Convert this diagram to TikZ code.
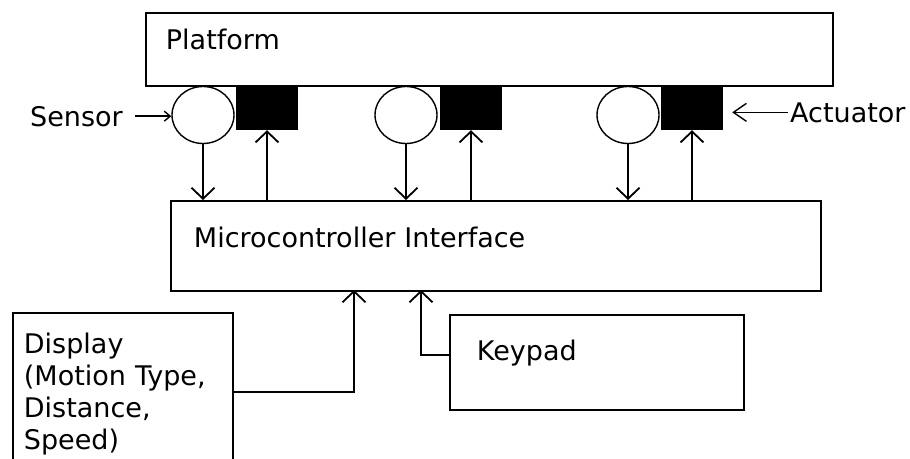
\documentclass[tikz,border=0pt]{standalone}
\usepackage{fontspec}
\setmainfont{DejaVu Sans}
\usetikzlibrary{positioning,arrows.meta,shapes.geometric}

\begin{document}
\begin{tikzpicture}[
    x=1pt, y=-1pt,
    txt/.style={font=\fontsize{27}{32}\selectfont},
    block/.style={rectangle, draw, line width=1.9pt, anchor=north west, txt, align=left, inner ysep=0pt},
    sensor/.style={ellipse, draw, line width=1.4pt, minimum width=62pt, minimum height=57pt, inner sep=0pt},
    actuator/.style={rectangle, fill=black, minimum width=62pt, minimum height=45pt, inner sep=0pt},
    flow/.style={line width=1.8pt, -{Straight Barb[length=11pt,width=23pt]}},
    tag/.style={txt, inner sep=0pt, anchor=base west}
  ]
  \useasboundingbox (0,0) rectangle (910,458);
  \clip (0,0) rectangle (910,458);

  % Boxes
  \node[block, inner xsep=20pt, text width=647pt, text height=37pt, text depth=36pt] (plat) at (145,12) {Platform};
  \node[block, inner xsep=23pt, text width=604pt, text height=47pt, text depth=43pt] (mc) at (170,200) {Microcontroller Interface};
  \node[block, inner xsep=11pt, text width=198pt, text height=41pt, text depth=117pt] (disp) at (12,312) {Display\\(Motion Type,\\Distance,\\Speed)};
  \node[block, inner xsep=27pt, text width=240pt, text height=46pt, text depth=49pt] (kp) at (449,314) {Keypad};

  % Sensors and actuators
  \node[sensor] (s1) at (203,115) {};
  \node[sensor] (s2) at (406,115) {};
  \node[sensor] (s3) at (628,115) {};
  \node[actuator] (a1) at (267,107.5) {};
  \node[actuator] (a2) at (471,107.5) {};
  \node[actuator] (a3) at (692,107.5) {};

  % Labels
  \node[tag] (lsens) at (30,126) {Sensor};
  \node[tag] (lact) at (790,122) {Actuator};

  % Signals
  \foreach \i in {1,2,3} {
    \draw[flow] (s\i.south) -- (s\i.south |- mc.north);
    \draw[flow] (mc.north -| a\i.south) -- (a\i.south);
  }
  \draw[line width=1.4pt, -{Straight Barb[length=6pt,width=10pt]}] ([xshift=12pt]lsens.east) -- (lsens.east -| s1.west);
  \draw[line width=1.4pt, shorten >=9pt, -{Straight Barb[length=13pt,width=18pt]}] ([xshift=-2pt]lact.west) -- (lact.west -| a3.east);

  \coordinate (dspin) at (354,290);
  \coordinate (keyin) at (421,290);
  \draw[flow] (disp.east) -| (dspin);
  \draw[flow] ([yshift=7.5pt]kp.west) -| (keyin);
\end{tikzpicture}
\end{document}
